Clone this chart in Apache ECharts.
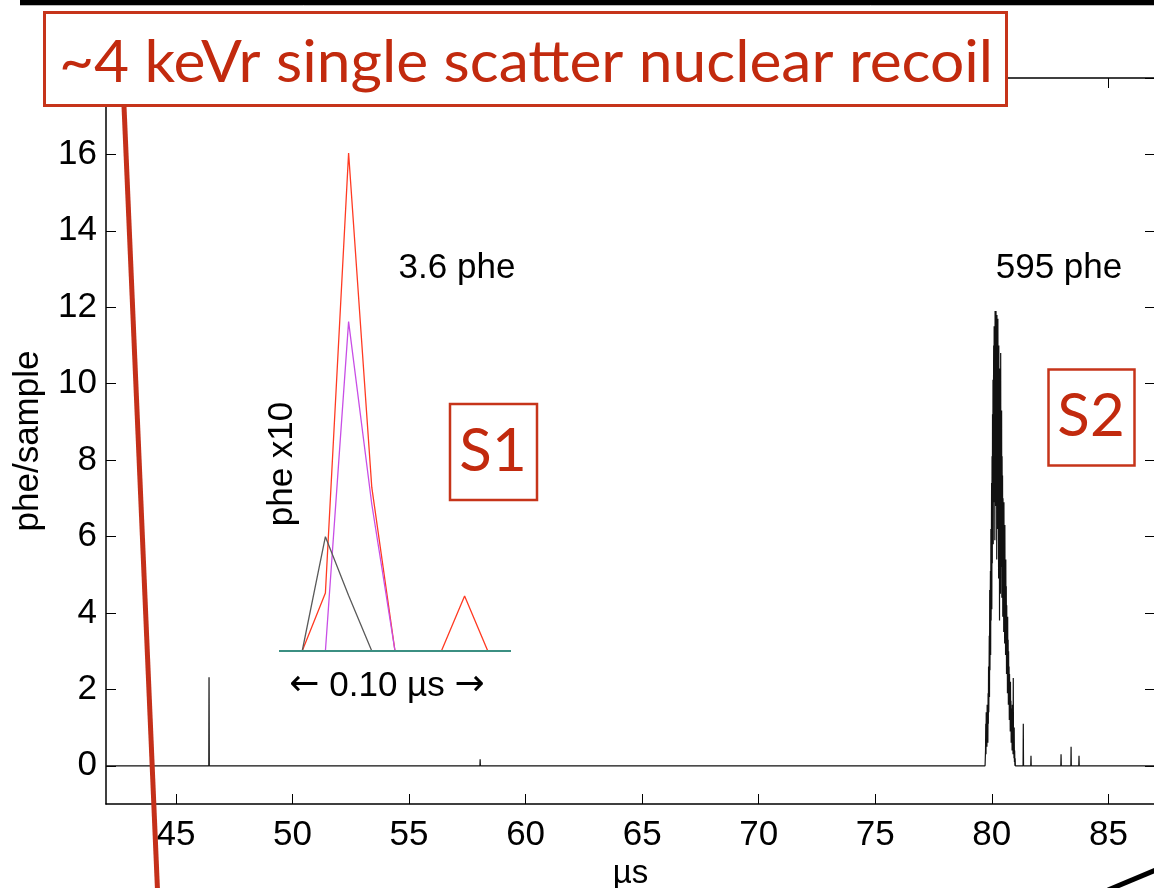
<!DOCTYPE html>
<html><head><meta charset="utf-8">
<script src="https://cdn.jsdelivr.net/npm/echarts@6/dist/echarts.min.js"></script>
<style>html,body{margin:0;padding:0;background:#fff}#c{width:1154px;height:888px}</style>
</head><body><div id="c"></div>
<script>
// ---- data ----
const xTicks = [45, 50, 55, 60, 65, 70, 75, 80, 85];
const yTicks = [0, 2, 4, 6, 8, 10, 12, 14, 16, 18];
const yLabels = [0, 2, 4, 6, 8, 10, 12, 14, 16];

// quiet part of the waveform (µs, phe/sample)
const quietTime  = [42, 46.41, 46.42, 46.43, 58.04, 58.05, 58.06, 79.71];
const quietValue = [0, 0, 2.32, 0, 0, 0.17, 0, 0];

// S2 pulse, 10 ns samples
const s2Time = [79.72, 79.73, 79.74, 79.75, 79.76, 79.77, 79.78, 79.79, 79.80, 79.81,
  79.82, 79.83, 79.84, 79.85, 79.86, 79.87, 79.88, 79.89, 79.90, 79.91,
  79.92, 79.93, 79.94, 79.95, 79.96, 79.97, 79.98, 79.99, 80.00, 80.01,
  80.02, 80.03, 80.04, 80.05, 80.06, 80.07, 80.08, 80.09, 80.10, 80.11,
  80.12, 80.13, 80.14, 80.15, 80.16, 80.17, 80.18, 80.19, 80.20, 80.21,
  80.22, 80.23, 80.24, 80.25, 80.26, 80.27, 80.28, 80.29, 80.30, 80.31,
  80.32, 80.33, 80.34, 80.35, 80.36, 80.37, 80.38, 80.39, 80.40, 80.41,
  80.42, 80.43, 80.44, 80.45, 80.46, 80.47, 80.48, 80.49, 80.50, 80.51,
  80.52, 80.53, 80.54, 80.55, 80.56, 80.57, 80.58, 80.59, 80.60, 80.61,
  80.62, 80.63, 80.64, 80.65, 80.66, 80.67, 80.68, 80.69, 80.70, 80.71,
  80.72, 80.73, 80.74, 80.75, 80.76, 80.77, 80.78, 80.79, 80.80, 80.81,
  80.82, 80.83, 80.84, 80.85, 80.86, 80.87, 80.88, 80.89, 80.90, 80.91,
  80.92, 80.93, 80.94, 80.95, 80.96, 80.97, 80.98, 80.99, 81.00, 81.01, 81.02];
const s2Value = [0.0, 0.4, 1.1, 0.3, 1.4, 0.7, 1.2, 0.5, 1.6, 0.9,
  1.5, 0.6, 1.9, 1.1, 2.6, 1.4, 2.3, 3.4, 1.8, 4.6,
  2.5, 3.9, 5.1, 2.9, 6.2, 3.8, 5.5, 7.4, 4.1, 8.1,
  5.3, 9.2, 6.0, 10.1, 5.8, 9.5, 11.0, 6.9, 11.5, 7.7,
  10.6, 5.9, 11.9, 8.3, 11.7, 6.8, 11.9, 9.6, 11.2, 5.4,
  11.8, 7.1, 10.9, 6.2, 11.7, 8.8, 10.1, 4.9, 11.0, 6.6,
  9.8, 3.8, 10.4, 7.2, 9.1, 4.5, 10.8, 6.0, 8.7, 5.2,
  9.3, 4.4, 8.1, 5.8, 7.6, 3.9, 7.0, 4.8, 6.6, 3.5,
  6.9, 4.1, 5.9, 3.2, 6.3, 3.8, 5.1, 2.9, 5.4, 3.3,
  4.7, 2.4, 4.2, 2.8, 3.7, 1.9, 3.9, 2.2, 3.3, 1.6,
  3.0, 1.8, 2.6, 1.2, 2.4, 1.5, 2.0, 0.9, 2.2, 1.1,
  1.7, 0.6, 1.5, 0.8, 1.2, 0.4, 1.6, 0.5, 1.0, 0.3,
  2.3, 0.4, 0.9, 0.2, 1.0, 0.1, 0.4, 0.0, 0.2, 0.0, 0.0];

// tail after S2
const tailTime  = [81.34, 81.35, 81.36, 81.67, 81.68, 81.69, 82.96, 82.97, 82.98,
  83.39, 83.40, 83.41, 83.73, 83.74, 83.75, 87];
const tailValue = [0, 1.1, 0, 0, 0.26, 0, 0, 0.3, 0, 0, 0.5, 0, 0, 0.26, 0, 0];

// S1 inset (10 ns samples, phe x10)
const insetSample  = [0, 1, 2, 3, 4, 5, 6, 7, 8, 9, 10];
const insetRed     = [null, 0, 1.52, 13.03, 4.28, 0, 0, 0, 1.44, 0, null];
const insetMagenta = [null, null, 0, 8.62, 3.84, 0, null, null, null, null, null];
const insetGray    = [null, 0, 2.99, 1.45, 0, null, null, null, null, null, null];
const insetTeal    = [0, 0, 0, 0, 0, 0, 0, 0, 0, 0, 0];

const titleText = '~4 keVr single scatter nuclear recoil';
// ---------------------------------------

const pair = (xs, ys) => xs.map((x, i) => [x, ys[i]]);
const traceData = pair(quietTime, quietValue).concat(pair(s2Time, s2Value), pair(tailTime, tailValue));

const RED = '#c6341a';
const SANS = 'Liberation Sans';
const GILL = 'Lato';

function textWidth(t, font) {
  const c = document.createElement('canvas').getContext('2d');
  c.font = font; return c.measureText(t).width;
}
const titleFont = '58px ' + GILL;
const titleScale = 934 / textWidth(titleText, titleFont);

const chart = echarts.init(document.getElementById('c'), null, {renderer: 'canvas'});
const line = {show: true, onZero: false, lineStyle: {color: '#000', width: 1.5}};
const tick = (vals) => ({show: true, inside: true, length: 10, customValues: vals, lineStyle: {color: '#000', width: 1}});
chart.setOption({
  animation: false,
  backgroundColor: '#fff',
  grid: [
    {left: 106, top: 78, width: 1049, height: 726, containLabel: false, outerBoundsMode: 'none'},
    {left: 279, top: 116, width: 232, height: 535, containLabel: false, outerBoundsMode: 'none'}
  ],
  xAxis: [
    {type: 'value', gridIndex: 0, min: 42, max: 87, position: 'bottom',
      name: 'µs', nameLocation: 'middle', nameGap: 48,
      nameTextStyle: {fontFamily: SANS, fontSize: 33, color: '#000'},
      axisLine: line, splitLine: {show: false}, axisTick: tick(xTicks),
      axisLabel: {show: true, customValues: xTicks, margin: 14, fontFamily: SANS, fontSize: 35, color: '#000'}},
    {type: 'value', gridIndex: 0, min: 42, max: 87, position: 'top',
      axisLine: line, splitLine: {show: false}, axisTick: tick(xTicks), axisLabel: {show: false}},
    {type: 'value', gridIndex: 1, min: 0, max: 10, show: false}
  ],
  yAxis: [
    {type: 'value', gridIndex: 0, min: -1, max: 18, position: 'left',
      name: 'phe/sample', nameLocation: 'middle', nameGap: 60,
      nameTextStyle: {fontFamily: SANS, fontSize: 35, color: '#000'},
      axisLine: line, splitLine: {show: false}, axisTick: tick(yTicks),
      axisLabel: {show: true, customValues: yLabels, margin: 9, fontFamily: SANS, fontSize: 35, color: '#000'}},
    {type: 'value', gridIndex: 0, min: -1, max: 18, position: 'right',
      axisLine: line, splitLine: {show: false}, axisTick: tick(yTicks), axisLabel: {show: false}},
    {type: 'value', gridIndex: 1, min: 0, max: 14, show: false}
  ],
  series: [
    {type: 'line', xAxisIndex: 0, yAxisIndex: 0, data: traceData,
      symbol: 'none', lineStyle: {color: '#111', width: 1.2}, z: 3},
    {type: 'line', xAxisIndex: 2, yAxisIndex: 2, data: pair(insetSample, insetRed),
      symbol: 'none', lineStyle: {color: '#ff3a22', width: 1.3}, z: 4},
    {type: 'line', xAxisIndex: 2, yAxisIndex: 2, data: pair(insetSample, insetMagenta),
      symbol: 'none', lineStyle: {color: '#c84ee6', width: 1.3}, z: 5},
    {type: 'line', xAxisIndex: 2, yAxisIndex: 2, data: pair(insetSample, insetGray),
      symbol: 'none', lineStyle: {color: '#5a5a5a', width: 1.3}, z: 5},
    {type: 'line', xAxisIndex: 2, yAxisIndex: 2, data: pair(insetSample, insetTeal),
      symbol: 'none', lineStyle: {color: '#3b8f82', width: 2}, z: 6}
  ],
  graphic: [
    // slide decorations
    {type: 'rect', shape: {x: 20, y: 0, width: 1134, height: 5}, style: {fill: '#000'}, z: 50},
    {type: 'line', shape: {x1: 20, y1: 5.5, x2: 1154, y2: 5.5}, style: {stroke: '#bbb', lineWidth: 1}, z: 50},
    {type: 'line', shape: {x1: 1108, y1: 890, x2: 1158, y2: 869}, style: {stroke: '#000', lineWidth: 5}, z: 50},
    // title box
    {type: 'rect', shape: {x: 44.5, y: 12.5, width: 962, height: 93}, style: {fill: '#fff', stroke: RED, lineWidth: 3}, z: 60},
    {type: 'text', x: 59, y: 63, scaleX: titleScale, z: 61,
      style: {text: titleText, font: titleFont, fill: '#c22a0e', textAlign: 'left', textVerticalAlign: 'middle', verticalAlign: 'middle'}},
    // connector
    {type: 'line', shape: {x1: 124, y1: 106, x2: 157.5, y2: 890}, style: {stroke: '#c4301a', lineWidth: 5}, z: 59},
    // annotations
    {type: 'text', x: 457, y: 268, z: 20, style: {text: '3.6 phe', font: '35px ' + SANS, fill: '#000', textAlign: 'center', textVerticalAlign: 'middle', verticalAlign: 'middle'}},
    {type: 'text', x: 1059, y: 268, z: 20, style: {text: '595 phe', font: '35px ' + SANS, fill: '#000', textAlign: 'center', textVerticalAlign: 'middle', verticalAlign: 'middle'}},
    {type: 'text', x: 282, y: 464, rotation: Math.PI / 2, z: 20, style: {text: 'phe x10', font: '35px ' + SANS, fill: '#000', textAlign: 'center', textVerticalAlign: 'middle', verticalAlign: 'middle'}},
    {type: 'text', x: 387, y: 686, z: 20, style: {text: '{a|←} 0.10 µs {a|→}', font: '35px ' + SANS, fill: '#000', textAlign: 'center', textVerticalAlign: 'middle', verticalAlign: 'middle',
      rich: {a: {fontFamily: 'DejaVu Sans', fontSize: 36, fill: '#000', color: '#000'}}}},
    {type: 'rect', shape: {x: 450, y: 404, width: 87, height: 96}, style: {fill: '#fff', stroke: RED, lineWidth: 2.5}, z: 20},
    {type: 'text', x: 493, y: 452, z: 21, style: {text: 'S1', font: '60px ' + GILL, fill: '#c22a0e', textAlign: 'center', textVerticalAlign: 'middle', verticalAlign: 'middle'}},
    {type: 'rect', shape: {x: 1048.5, y: 369.5, width: 86, height: 96}, style: {fill: '#fff', stroke: RED, lineWidth: 2.5}, z: 20},
    {type: 'text', x: 1091, y: 417, z: 21, style: {text: 'S2', font: '60px ' + GILL, fill: '#c22a0e', textAlign: 'center', textVerticalAlign: 'middle', verticalAlign: 'middle'}}
  ]
});
</script></body></html>
